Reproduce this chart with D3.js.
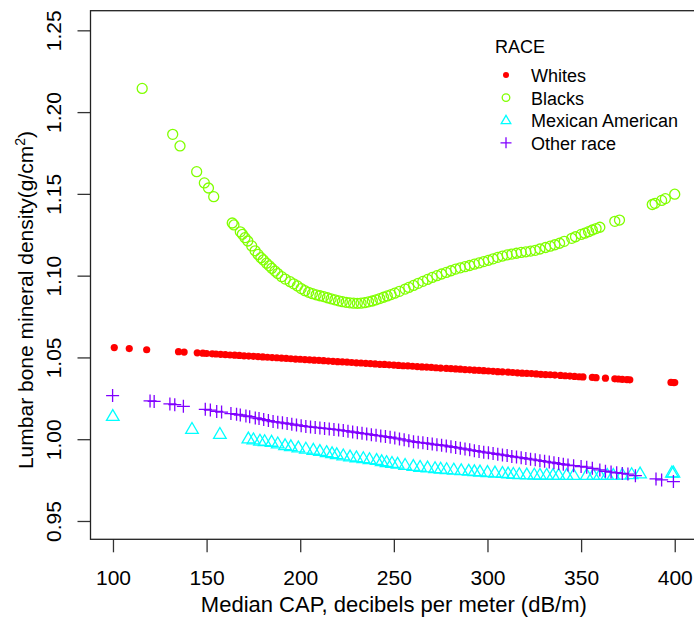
<!DOCTYPE html>
<html>
<head>
<meta charset="utf-8">
<script src="https://cdn.jsdelivr.net/npm/d3@7"></script>
<style>
    body { margin: 0; background: #fff; }
    text { font-family: 'Liberation Sans', Arial, sans-serif; fill: #000; }
</style>
</head>
<body>
<div id="chart-holder"></div>
<script>

// Chart values (CAP in dB/m, BMD in g/cm2)

const races = ['Whites', 'Blacks', 'Mexican American', 'Other race']
const raceColors = ['#FF0000', '#80FF00', '#00FFFF', '#8000FF']
const xTicks = [100, 150, 200, 250, 300, 350, 400]
const yTicks = [0.95, 1.00, 1.05, 1.10, 1.15, 1.20, 1.25]

const whitesX = [100.7,108.7,118,135,138,145,148,150,153,155,157.5,160,162.5,165,167.5,170,172.5,175,177.5,180,182.5,185,187.5,190,192.5,195,197.5,200,202.5,205,207.5,210,212.5,215,217.5,220,222.5,225,227.5,230,232.5,235,237.5,240,242.5,245,247.5,250,252.5,255,257.5,260,262.5,265,267.5,270,272.5,275,278,280.5,283,285.5,288,290.5,293,295.5,298,300.5,303,305.5,308,311,313.5,316,318.5,321,323.5,326,328.5,331,333.5,336,339,341.5,344,346.5,349,351,356,358,363,368,370,372,374.5,376,398,399.3,400]
const whitesY = [1.0560,1.0554,1.0547,1.0535,1.0533,1.0528,1.0526,1.0524,1.0522,1.0521,1.0519,1.0517,1.0515,1.0514,1.0512,1.0510,1.0508,1.0507,1.0505,1.0503,1.0501,1.0499,1.0498,1.0496,1.0494,1.0492,1.0490,1.0489,1.0487,1.0485,1.0483,1.0482,1.0480,1.0478,1.0476,1.0474,1.0473,1.0471,1.0469,1.0467,1.0466,1.0464,1.0462,1.0460,1.0458,1.0457,1.0455,1.0453,1.0451,1.0449,1.0448,1.0446,1.0444,1.0442,1.0441,1.0439,1.0437,1.0435,1.0433,1.0431,1.0430,1.0428,1.0426,1.0424,1.0422,1.0421,1.0419,1.0417,1.0415,1.0413,1.0412,1.0410,1.0408,1.0406,1.0404,1.0402,1.0401,1.0399,1.0397,1.0395,1.0394,1.0392,1.0390,1.0388,1.0386,1.0384,1.0382,1.0381,1.0378,1.0376,1.0373,1.0369,1.0368,1.0366,1.0364,1.0363,1.0347,1.0346,1.0346]

const blacksX = [115.6,131.9,135.8,144.7,148.8,151.0,153.8,163.7,164.6,168,169.1,170.5,172,174.1,175.9,177.5,179,180.3,182,183.5,184.8,186.5,188,190.1,192,194.6,196.5,198.5,200.5,202.5,204.5,206.5,208.5,210.5,212.5,214.5,216.5,218.5,220.5,222.5,224.5,226.5,228.5,230.5,232.5,234.5,236.5,238.5,240.5,242.5,244.5,246.5,248.5,250.5,253,256,258,260.5,263,265.5,268,270.5,273,275.5,278,280.5,283,285.5,288,290.5,293,295.5,298,300.5,303,305.5,308,310.5,313,315.5,318,320.5,323,325.5,328,331,333.5,336,338.5,341,345,347,350,352,354,356,358,360,368,370.5,388,389.5,393,395,400]
const blacksY = [1.2145,1.1864,1.1793,1.1636,1.1567,1.1536,1.1483,1.1322,1.1310,1.1268,1.1253,1.1232,1.1212,1.1182,1.1152,1.1130,1.1110,1.1096,1.1076,1.1060,1.1045,1.1028,1.1013,1.0994,1.0979,1.0963,1.0950,1.0937,1.0921,1.0908,1.0898,1.0890,1.0883,1.0877,1.0872,1.0865,1.0858,1.0852,1.0846,1.0841,1.0837,1.0834,1.0832,1.0831,1.0832,1.0835,1.0840,1.0845,1.0852,1.0860,1.0868,1.0876,1.0884,1.0893,1.0904,1.0918,1.0928,1.0940,1.0953,1.0965,1.0977,1.0989,1.1000,1.1010,1.1020,1.1030,1.1040,1.1048,1.1055,1.1062,1.1070,1.1078,1.1086,1.1094,1.1103,1.1112,1.1120,1.1127,1.1132,1.1137,1.1142,1.1146,1.1150,1.1155,1.1163,1.1172,1.1180,1.1189,1.1198,1.1210,1.1228,1.1238,1.1252,1.1260,1.1269,1.1279,1.1288,1.1296,1.1332,1.1340,1.1435,1.1442,1.1460,1.1471,1.1498]

const mexicanX = [99.9,142.2,157.1,172.3,175,178.5,181,184.7,188,191.9,195,199,203,207,210.5,214.1,217,219.5,223,226.6,230,233.7,237,240.8,243.5,246.1,249,252,256,260.4,264,268,272,275,278.2,282,286,290,293,296,300,304,308,311,313.8,317,321,325,328,331.6,335,338,342.3,346,353,356.5,360,364,367.2,372,377,381.5,398.5,399.3]
const mexicanY = [1.0142,1.0063,1.0032,1.0004,0.9999,0.9991,0.9988,0.9984,0.9974,0.9963,0.9957,0.9949,0.9942,0.9935,0.9928,0.9921,0.9914,0.9908,0.9901,0.9894,0.9889,0.9884,0.9878,0.9873,0.9865,0.9860,0.9855,0.9850,0.9843,0.9836,0.9831,0.9827,0.9823,0.9820,0.9817,0.9814,0.9810,0.9807,0.9804,0.9802,0.9799,0.9796,0.9793,0.9790,0.9788,0.9786,0.9784,0.9783,0.9782,0.9782,0.9781,0.9781,0.9781,0.9781,0.9781,0.9781,0.9781,0.9781,0.9781,0.9783,0.9786,0.9790,0.9796,0.9796]

const otherX = [99.8,119.8,122,130.4,133,137.6,149.3,152,155.4,158,163,166,168,171,173,176,178,180.5,183,185.5,188,190.5,193,195.5,198,200.5,203,205.5,208,210.5,213,215.5,218,220.5,223,225.5,228,230.5,233,235.5,238,240.5,243,245.5,248,250.5,253,255.5,258,260.5,263,265.5,268,270.5,273,275.5,278,280.5,283,285.5,288,290.5,293,295.5,298,300.5,303,305.5,308,310.5,313,315.5,318,320.5,323,325.5,328,330.5,333,335.5,338,340.5,343,346,350,353,356,360,363,366,369,372,375,379,390,393,399.3]
const otherY = [1.0267,1.0234,1.0231,1.0216,1.0211,1.0201,1.0183,1.0178,1.0170,1.0166,1.0157,1.0152,1.0148,1.0142,1.0138,1.0130,1.0126,1.0120,1.0114,1.0108,1.0104,1.0100,1.0096,1.0092,1.0087,1.0083,1.0078,1.0075,1.0072,1.0069,1.0066,1.0063,1.0060,1.0057,1.0053,1.0049,1.0044,1.0040,1.0036,1.0032,1.0028,1.0024,1.0020,1.0016,1.0012,1.0007,1.0002,0.9996,0.9990,0.9985,0.9981,0.9978,0.9974,0.9970,0.9966,0.9963,0.9959,0.9954,0.9950,0.9945,0.9940,0.9935,0.9930,0.9925,0.9921,0.9917,0.9913,0.9908,0.9904,0.9900,0.9895,0.9891,0.9887,0.9882,0.9878,0.9874,0.9869,0.9865,0.9860,0.9856,0.9851,0.9847,0.9842,0.9838,0.9833,0.9829,0.9822,0.9812,0.9804,0.9799,0.9795,0.9791,0.9787,0.9777,0.9757,0.9751,0.9741]

const width = 694
const height = 618

// plot region (R style box, 4% padding on each side)
var x = d3.scaleLinear()
    .domain([88, 412])
    .range([90.5, 697.2])

var y = d3.scaleLinear()
    .domain([0.9388, 1.262])
    .range([539.3, 10.7])

var svg = d3.select('#chart-holder')
    .append('svg')
    .attr('width', width)
    .attr('height', height)

const zip = (xs, ys) => xs.map((d, i) => [d, ys[i]])

const symbols = {
    dot: r => `M${-r},0a${r},${r} 0 1,0 ${2*r},0a${r},${r} 0 1,0 ${-2*r},0`,
    tri: s => `M0,${-s*1.02}L${s},${s*0.7}L${-s},${s*0.7}Z`,
    plus: s => `M${-s},0H${s}M0,${-s}V${s}`
}

// ** Points ** //

let pointsG = svg.append('g')

pointsG.selectAll('.whites')
    .data(zip(whitesX, whitesY))
    .join('circle')
    .classed('whites', true)
    .attr('cx', d => x(d[0]))
    .attr('cy', d => y(d[1]))
    .attr('r', 3.6)
    .attr('fill', raceColors[0])

pointsG.selectAll('.blacks')
    .data(zip(blacksX, blacksY))
    .join('circle')
    .classed('blacks', true)
    .attr('cx', d => x(d[0]))
    .attr('cy', d => y(d[1]))
    .attr('r', 5)
    .attr('fill', 'none')
    .attr('stroke', raceColors[1])
    .attr('stroke-width', 1.3)

pointsG.selectAll('.mexican')
    .data(zip(mexicanX, mexicanY))
    .join('path')
    .classed('mexican', true)
    .attr('transform', d => `translate(${x(d[0])},${y(d[1])})`)
    .attr('d', symbols.tri(6.3))
    .attr('fill', 'none')
    .attr('stroke', raceColors[2])
    .attr('stroke-width', 1.3)

pointsG.selectAll('.other')
    .data(zip(otherX, otherY))
    .join('path')
    .classed('other', true)
    .attr('transform', d => `translate(${x(d[0])},${y(d[1])})`)
    .attr('d', symbols.plus(6.5))
    .attr('fill', 'none')
    .attr('stroke', raceColors[3])
    .attr('stroke-width', 1.3)

// ** Axes ** //

let xAxis = svg.append('g')
    .attr('transform', `translate(0,${y.range()[0]})`)
    .call(d3.axisBottom(x).tickValues(xTicks).tickSize(13).tickPadding(18))

xAxis.select('.domain').remove()
xAxis.selectAll('line').attr('stroke', '#333').attr('stroke-width', 1.3)
xAxis.selectAll('text')
    .attr('font-size', '21px')
    .attr('font-family', null)

let yAxis = svg.append('g')
    .attr('transform', `translate(${x.range()[0]},0)`)
    .call(d3.axisLeft(y).tickValues(yTicks).tickSize(13).tickFormat(d3.format('.2f')))

yAxis.select('.domain').remove()
yAxis.selectAll('line').attr('stroke', '#333').attr('stroke-width', 1.3)
yAxis.selectAll('text')
    .attr('transform', 'rotate(-90)')
    .attr('x', 0)
    .attr('y', -29.5)
    .attr('dy', 0)
    .attr('text-anchor', 'middle')
    .attr('font-size', '21px')
    .attr('font-family', null)

// box round the plot
svg.append('rect')
    .attr('x', x.range()[0])
    .attr('y', y.range()[1])
    .attr('width', x.range()[1] - x.range()[0])
    .attr('height', y.range()[0] - y.range()[1])
    .attr('fill', 'none')
    .attr('stroke', '#222')
    .attr('stroke-width', 1.3)

svg.append('text')
    .attr('text-anchor', 'middle')
    .attr('x', (x.range()[0] + x.range()[1]) / 2)
    .attr('y', 612)
    .attr('font-size', '22px')
    .text('Median CAP, decibels per meter (dB/m)')

let yTitle = svg.append('text')
    .attr('text-anchor', 'middle')
    .attr('transform', `translate(33,300) rotate(-90)`)
    .attr('font-size', '21px')

yTitle.append('tspan').text('Lumbar bone mineral density(g/cm')
yTitle.append('tspan').text('2').attr('font-size', '14px').attr('dy', -8)
yTitle.append('tspan').text(')').attr('dy', 8)

// ** Legend ** //

let legendG = svg.append('g')
    .attr('transform', 'translate(495,0)')

legendG.append('text')
    .attr('x', 0)
    .attr('y', 53)
    .attr('font-size', '18px')
    .text('RACE')

const legendShapes = ['dot', 'circle', 'tri', 'plus']

let items = legendG.selectAll('.leg-item')
    .data(races)
    .join('g')
    .classed('leg-item', true)
    .attr('transform', (d, i) => `translate(0,${75 + i * 22.6})`)

items.append('path')
    .attr('transform', 'translate(11,0)')
    .attr('d', (d, i) => {
        let s = legendShapes[i]
        if (s == 'dot') return symbols.dot(3)
        if (s == 'circle') return symbols.dot(3.8)
        if (s == 'tri') return symbols.tri(4.8)
        return symbols.plus(5.5)
    })
    .attr('fill', (d, i) => i == 0 ? raceColors[0] : 'none')
    .attr('stroke', (d, i) => i == 0 ? 'none' : raceColors[i])
    .attr('stroke-width', 1.3)

items.append('text')
    .attr('x', 36)
    .attr('y', 7)
    .attr('font-size', '18px')
    .text(d => d)

</script>
</body>
</html>
